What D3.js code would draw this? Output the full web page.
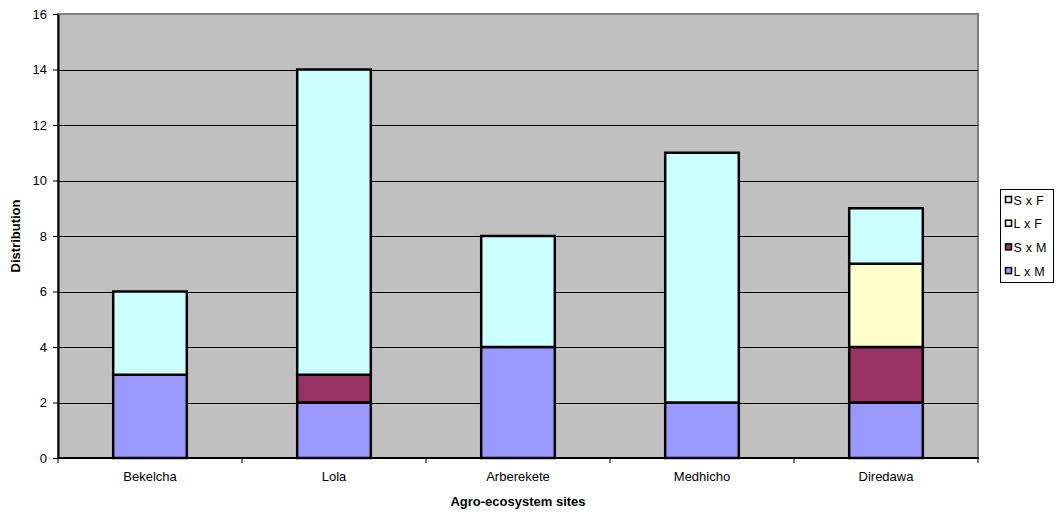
<!DOCTYPE html>
<html>
<head>
<meta charset="utf-8">
<script src="https://cdn.jsdelivr.net/npm/d3@7"></script>
<style>
  html, body { margin: 0; padding: 0; background: #fff; }
  svg { display: block; font-family: "Liberation Sans", Arial, sans-serif; }
</style>
</head>
<body>
<svg id="chart" width="1056" height="512"></svg>
<script>
// Sites along the x axis
const sites = ["Bekelcha", "Lola", "Arberekete", "Medhicho", "Diredawa"];

// Stacked series, bottom to top
const seriesNames = ["L x M", "S x M", "L x F", "S x F"];
const lxM = [3, 2, 4, 2, 2];
const sxM = [0, 1, 0, 0, 2];
const lxF = [0, 0, 0, 0, 3];
const sxF = [3, 11, 4, 9, 2];

const yTicks = [0, 2, 4, 6, 8, 10, 12, 14, 16];
const colors = ["#9999FF", "#993366", "#FFFFCC", "#CCFFFF"];

const rows = sites.map((s, i) => ({
  site: s, "L x M": lxM[i], "S x M": sxM[i], "L x F": lxF[i], "S x F": sxF[i]
}));

const FONT = "Liberation Sans, Arial, sans-serif";
const svg = d3.select("#chart");
const area = { left: 58, top: 14, right: 978, bottom: 458 };

const x = d3.scaleBand().domain(sites).range([area.left, area.right]);
const y = d3.scaleLinear().domain([0, 16]).range([area.bottom, area.top]);

// Plot area background with grey frame
svg.append("rect")
  .attr("x", area.left).attr("y", area.top)
  .attr("width", area.right - area.left).attr("height", area.bottom - area.top)
  .attr("fill", "#C0C0C0").attr("stroke", "#808080").attr("stroke-width", 2);

// Gridlines
svg.append("g").selectAll("line")
  .data(yTicks.filter(t => t > 0 && t < 16))
  .join("line")
  .attr("x1", area.left).attr("x2", area.right)
  .attr("y1", d => Math.round(y(d)) + 0.5).attr("y2", d => Math.round(y(d)) + 0.5)
  .attr("stroke", "#000").attr("stroke-width", 1);

// Stacked bars
const stack = d3.stack().keys(seriesNames)(rows);
const barW = x.bandwidth() * 0.4;
svg.append("g").selectAll("g")
  .data(stack)
  .join("g")
  .attr("fill", (d, i) => colors[i])
  .selectAll("rect")
  .data(d => d.filter(p => p[1] - p[0] > 0))
  .join("rect")
  .attr("x", d => x(d.data.site) + (x.bandwidth() - barW) / 2)
  .attr("y", d => y(d[1]))
  .attr("width", barW)
  .attr("height", d => y(d[0]) - y(d[1]))
  .attr("stroke", "#000").attr("stroke-width", 2.5);

// Y axis
const yAxis = svg.append("g")
  .attr("transform", `translate(${area.left},0)`)
  .call(d3.axisLeft(y).tickValues(yTicks).tickSize(5).tickPadding(6).tickSizeOuter(0));
yAxis.select(".domain").attr("stroke", "#000").attr("stroke-width", 2);
yAxis.selectAll(".tick line").attr("stroke", "#000");
yAxis.selectAll("text").attr("font-size", 13).attr("fill", "#000").attr("font-family", FONT);

// X axis with ticks at category boundaries
const xAxisG = svg.append("g").attr("transform", `translate(0,${area.bottom})`);
xAxisG.append("line")
  .attr("x1", area.left).attr("x2", area.right + 1)
  .attr("y1", 0).attr("y2", 0)
  .attr("stroke", "#000").attr("stroke-width", 2);
const boundaries = sites.map(s => x(s)).concat([area.right]);
xAxisG.selectAll("line.tk").data(boundaries).join("line").attr("class", "tk")
  .attr("x1", d => d).attr("x2", d => d).attr("y1", 0).attr("y2", 5)
  .attr("stroke", "#000");
xAxisG.selectAll("text").data(sites).join("text")
  .attr("x", d => x(d) + x.bandwidth() / 2).attr("y", 23)
  .attr("text-anchor", "middle").attr("font-size", 13).text(d => d);

// Axis titles
svg.append("text")
  .attr("x", (area.left + area.right) / 2).attr("y", 506)
  .attr("text-anchor", "middle").attr("font-size", 13).attr("font-weight", "bold")
  .text("Agro-ecosystem sites");
svg.append("text")
  .attr("transform", `translate(20,${(area.top + area.bottom) / 2}) rotate(-90)`)
  .attr("text-anchor", "middle").attr("font-size", 13).attr("font-weight", "bold")
  .text("Distribution");

// Legend (top series first)
const legend = svg.append("g");
legend.append("rect")
  .attr("x", 1000.5).attr("y", 189.5).attr("width", 53).attr("height", 93)
  .attr("fill", "#fff").attr("stroke", "#000");
const legendItems = seriesNames.map((n, i) => ({ name: n, color: colors[i] })).reverse();
const li = legend.selectAll("g.item").data(legendItems).join("g").attr("class", "item")
  .attr("transform", (d, i) => `translate(1005,${200 + i * 23.7})`);
li.append("rect").attr("x", 0.5).attr("y", -3.5).attr("width", 6).attr("height", 6)
  .attr("fill", d => d.color).attr("stroke", "#000").attr("stroke-width", 1.5);
li.append("text").attr("x", 8.5).attr("y", 4.5).attr("font-size", 12.5)
  .attr("word-spacing", 0.5).text(d => d.name);
</script>
</body>
</html>
